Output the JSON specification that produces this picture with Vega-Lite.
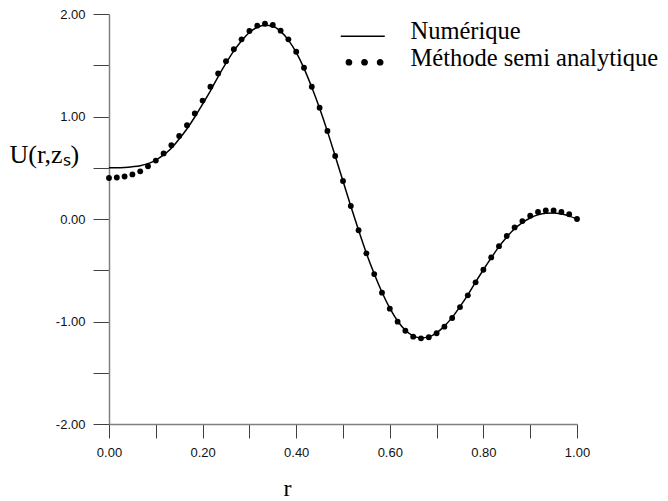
{
  "$schema": "https://vega.github.io/schema/vega-lite/v6.json",
  "width": 468,
  "height": 410,
  "autosize": "none",
  "padding": {"left": 109, "top": 14, "right": 91, "bottom": 77},
  "background": "white",
  "config": {
    "view": {"stroke": null},
    "axis": {
      "grid": false,
      "domainColor": "#808080",
      "domainWidth": 1.5,
      "tickColor": "#404040",
      "tickWidth": 1,
      "labelFont": "Liberation Sans",
      "labelFontSize": 13,
      "labelColor": "#111111",
      "labelFlush": false,
      "labelOverlap": false,
      "labelBound": false,
      "titleFont": "Liberation Serif",
      "titleFontWeight": "normal",
      "titleColor": "black"
    }
  },
  "data": {
    "values": [
      {"r": 0, "num": 0.5, "semi": 0.4},
      {"r": 0.0167, "num": 0.5, "semi": 0.405},
      {"r": 0.0333, "num": 0.503, "semi": 0.415},
      {"r": 0.05, "num": 0.51, "semi": 0.435},
      {"r": 0.0667, "num": 0.52, "semi": 0.465},
      {"r": 0.0833, "num": 0.54, "semi": 0.515},
      {"r": 0.1, "num": 0.575, "semi": 0.57},
      {"r": 0.1167, "num": 0.625, "semi": 0.64},
      {"r": 0.1333, "num": 0.69, "semi": 0.72},
      {"r": 0.15, "num": 0.78, "semi": 0.81},
      {"r": 0.1667, "num": 0.88, "semi": 0.915},
      {"r": 0.1833, "num": 0.995, "semi": 1.03},
      {"r": 0.2, "num": 1.12, "semi": 1.155},
      {"r": 0.2167, "num": 1.25, "semi": 1.29},
      {"r": 0.2333, "num": 1.39, "semi": 1.42},
      {"r": 0.25, "num": 1.52, "semi": 1.54},
      {"r": 0.2667, "num": 1.64, "semi": 1.656},
      {"r": 0.2833, "num": 1.74, "semi": 1.753},
      {"r": 0.3, "num": 1.82, "semi": 1.834},
      {"r": 0.3167, "num": 1.87, "semi": 1.886},
      {"r": 0.3333, "num": 1.89, "semi": 1.905},
      {"r": 0.35, "num": 1.88, "semi": 1.893},
      {"r": 0.3667, "num": 1.83, "semi": 1.837},
      {"r": 0.3833, "num": 1.745, "semi": 1.753},
      {"r": 0.4, "num": 1.625, "semi": 1.632},
      {"r": 0.4167, "num": 1.47, "semi": 1.476},
      {"r": 0.4333, "num": 1.285, "semi": 1.29},
      {"r": 0.45, "num": 1.08, "semi": 1.086},
      {"r": 0.4667, "num": 0.855, "semi": 0.859},
      {"r": 0.4833, "num": 0.615, "semi": 0.615},
      {"r": 0.5, "num": 0.37, "semi": 0.371},
      {"r": 0.5167, "num": 0.125, "semi": 0.127},
      {"r": 0.5333, "num": -0.11, "semi": -0.11},
      {"r": 0.55, "num": -0.335, "semi": -0.335},
      {"r": 0.5667, "num": -0.535, "semi": -0.537},
      {"r": 0.5833, "num": -0.715, "semi": -0.719},
      {"r": 0.6, "num": -0.87, "semi": -0.875},
      {"r": 0.6167, "num": -0.995, "semi": -1.002},
      {"r": 0.6333, "num": -1.085, "semi": -1.09},
      {"r": 0.65, "num": -1.14, "semi": -1.148},
      {"r": 0.6667, "num": -1.16, "semi": -1.164},
      {"r": 0.6833, "num": -1.15, "semi": -1.154},
      {"r": 0.7, "num": -1.11, "semi": -1.115},
      {"r": 0.7167, "num": -1.045, "semi": -1.05},
      {"r": 0.7333, "num": -0.96, "semi": -0.966},
      {"r": 0.75, "num": -0.855, "semi": -0.859},
      {"r": 0.7667, "num": -0.74, "semi": -0.745},
      {"r": 0.7833, "num": -0.615, "semi": -0.618},
      {"r": 0.8, "num": -0.495, "semi": -0.495},
      {"r": 0.8167, "num": -0.38, "semi": -0.375},
      {"r": 0.8333, "num": -0.27, "semi": -0.265},
      {"r": 0.85, "num": -0.175, "semi": -0.166},
      {"r": 0.8667, "num": -0.095, "semi": -0.082},
      {"r": 0.8833, "num": -0.035, "semi": -0.02},
      {"r": 0.9, "num": 0.01, "semi": 0.032},
      {"r": 0.9167, "num": 0.04, "semi": 0.068},
      {"r": 0.9333, "num": 0.055, "semi": 0.083},
      {"r": 0.95, "num": 0.058, "semi": 0.083},
      {"r": 0.9667, "num": 0.048, "semi": 0.068},
      {"r": 0.9833, "num": 0.028, "semi": 0.046},
      {"r": 1, "num": 0, "semi": 0}
    ]
  },
  "layer": [
    {
      "mark": {"type": "line", "strokeWidth": 1.5, "interpolate": "monotone"},
      "encoding": {
        "x": {
          "field": "r",
          "type": "quantitative",
          "scale": {"domain": [0, 1], "nice": false, "zero": false},
          "axis": {
            "values": [0, 0.1, 0.2, 0.3, 0.4, 0.5, 0.6, 0.7, 0.8, 0.9, 1],
            "tickSize": 14,
            "labelPadding": 8,
            "labelExpr": "round(datum.value*10)%2==0 ? format(datum.value,'.2f') : ''",
            "title": "r",
            "titleFontSize": 24,
            "titleAlign": "center",
            "titleBaseline": "alphabetic",
            "titleX": 178,
            "titleY": 71,
            "encode": {
              "ticks": {
                "update": {
                  "y2": {"signal": "round(datum.value*10)%2==0 ? 14 : 7"}
                }
              }
            }
          }
        },
        "y": {
          "field": "num",
          "type": "quantitative",
          "scale": {"domain": [-2, 2], "nice": false, "zero": false},
          "axis": {
            "values": [-2, -1.5, -1, -0.5, 0, 0.5, 1, 1.5, 2],
            "tickSize": 16,
            "labelPadding": 8,
            "labelExpr": "datum.value==round(datum.value) ? replace(format(datum.value,'.2f'),'\u2212','-') : ''",
            "title": "U(r,zₛ)",
            "titleFontSize": 26,
            "titleAngle": 0,
            "titleAlign": "left",
            "titleBaseline": "alphabetic",
            "titleX": -100,
            "titleY": 148,
            "encode": {
              "ticks": {
                "update": {
                  "x2": {"signal": "datum.value==round(datum.value) ? -16 : -9"}
                }
              }
            }
          }
        },
        "color": {
          "datum": "Numérique",
          "type": "nominal",
          "scale": {"domain": ["Numérique", "Méthode semi analytique"], "range": ["black", "black"]},
          "legend": {
            "title": null,
            "orient": "none",
            "legendX": 241,
            "legendY": 6,
            "direction": "vertical",
            "padding": 0,
            "rowPadding": 2,
            "symbolSize": 400,
            "labelFont": "Liberation Serif",
            "labelFontSize": 24.5,
            "labelColor": "black",
            "labelOffset": 36,
            "labelLimit": 400,
            "labelExpr": "datum.label == 'Numérique' ? datum.label : '\u00a0' + datum.label",
            "encode": {
              "symbols": {
                "update": {
                  "shape": {"signal": "datum.value == 'Numérique' ? 'M-2.15,0.4H2.25' : 'M-1.6,0.3a0.27,0.27 0 1,0 0.54,0a0.27,0.27 0 1,0 -0.54,0ZM-0.04,0.3a0.27,0.27 0 1,0 0.54,0a0.27,0.27 0 1,0 -0.54,0ZM1.52,0.3a0.27,0.27 0 1,0 0.54,0a0.27,0.27 0 1,0 -0.54,0Z'"},
                  "fill": {"value": "black"},
                  "stroke": {"value": "black"},
                  "strokeWidth": {"value": 1.3},
                  "opacity": {"value": 1},
                  "size": {"value": 400}
                }
              }
            }
          }
        }
      }
    },
    {
      "mark": {"type": "point", "filled": true, "size": 34, "opacity": 1, "strokeWidth": 0},
      "encoding": {
        "x": {"field": "r", "type": "quantitative"},
        "y": {"field": "semi", "type": "quantitative"},
        "color": {"datum": "Méthode semi analytique", "type": "nominal"}
      }
    }
  ]
}
